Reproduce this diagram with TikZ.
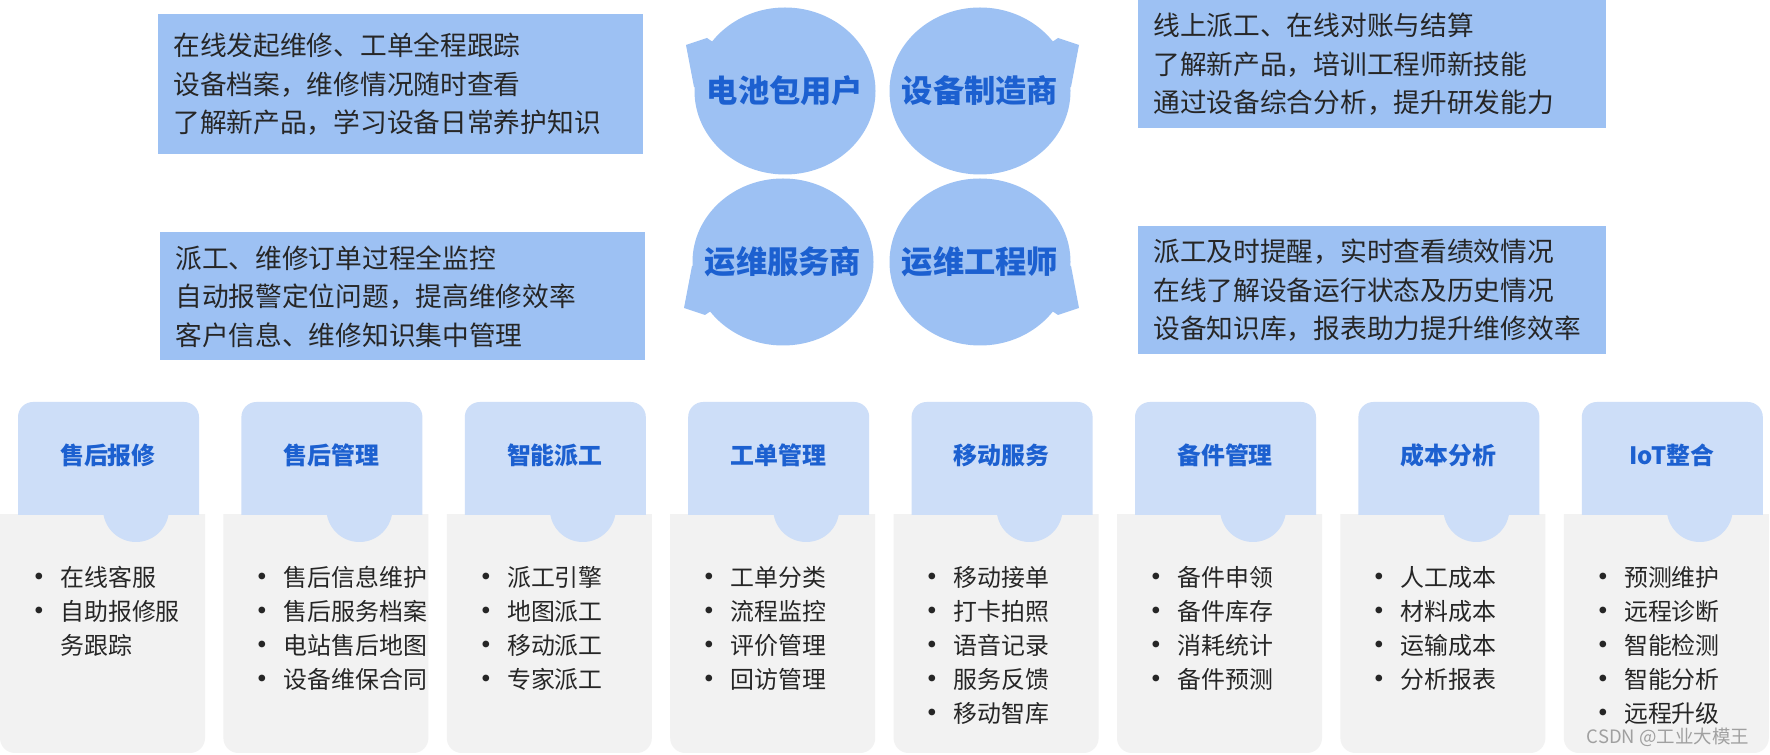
\documentclass[tikz,border=0pt]{standalone}
\usepackage{fontspec}
\setmainfont{Noto Sans CJK SC}
\usetikzlibrary{shapes.geometric,backgrounds}

\definecolor{boxblue}{RGB}{157,193,243}
\definecolor{headblue}{RGB}{205,222,248}
\definecolor{bodygray}{RGB}{242,242,242}
\definecolor{titleblue}{RGB}{28,96,208}
\definecolor{textdark}{RGB}{38,38,38}
\definecolor{markgray}{RGB}{160,160,160}

\newcommand\itembul{\makebox[5.6mm][l]{\hspace*{-1.8mm}\raisebox{-0.4mm}{\fontsize{18}{10}\selectfont •}}}
\newcommand\itemgap{\hspace*{5.6mm}}

\begin{document}
\begin{tikzpicture}[x=0.2mm, y=-0.2mm,
    descbox/.style={fill=boxblue, anchor=north west, inner xsep=3mm, inner ysep=0pt,
        align=left, text=textdark, font=\fontsize{15.2}{21.9}\selectfont},
    bubble/.style={ellipse, fill=boxblue, minimum width=36.2mm, minimum height=33.4mm,
        inner sep=0pt},
    bubbletext/.style={text=titleblue, font=\fontsize{17.8}{20}\selectfont\bfseries},
    cardtitle/.style={text=titleblue, font=\fontsize{13.6}{16}\selectfont\bfseries},
    cardlist/.style={anchor=north west, inner sep=0pt, align=left, text=textdark,
        font=\fontsize{13.6}{19.35}\selectfont},
    watermark/.style={text=markgray, font=\fontsize{10.5}{12}\selectfont}]

    \useasboundingbox (0,0) rectangle (1770,755);

    % role descriptions
    \node[descbox, text width=91mm, minimum height=28mm] (userdesc) at (158,14)
        {在线发起维修、工单全程跟踪\\设备档案，维修情况随时查看\\了解新产品，学习设备日常养护知识};
    \node[descbox, text width=91mm, minimum height=25.6mm] (providerdesc) at (160,232)
        {派工、维修订单过程全监控\\自动报警定位问题，提高维修效率\\客户信息、维修知识集中管理};
    \node[descbox, text width=87.6mm, minimum height=25.6mm] (makerdesc) at (1138,0)
        {线上派工、在线对账与结算\\了解新产品，培训工程师新技能\\通过设备综合分析，提升研发能力};
    \node[descbox, text width=87.6mm, minimum height=25.6mm] (engineerdesc) at (1138,226)
        {派工及时提醒，实时查看绩效情况\\在线了解设备运行状态及历史情况\\设备知识库，报表助力提升维修效率};

    % roles
    \node[bubble, label={[bubbletext]center:电池包用户}] (user) at (785,91) {};
    \node[bubble, label={[bubbletext]center:设备制造商}] (maker) at (980,91) {};
    \node[bubble, label={[bubbletext]center:运维服务商}] (provider) at (783,262) {};
    \node[bubble, label={[bubbletext]center:运维工程师}] (engineer) at (980,262) {};

    \begin{scope}[on background layer]
        \fill[white] (0,0) rectangle (1770,755);
        \foreach \b/\sx/\sy in {user/-1/-1, maker/1/-1, provider/-1/1, engineer/1/1}
            \fill[boxblue] (\b.center) -- ++(78*\sx,53*\sy) -- ++(21*\sx,-7*\sy)
                -- ++(-8*\sx,-42*\sy) -- cycle;
    \end{scope}

    % function cards
    \foreach \i/\ttl/\items in {
        0/售后报修/{\itembul 在线客服\\\itembul 自助报修服\\\itemgap 务跟踪},
        1/售后管理/{\itembul 售后信息维护\\\itembul 售后服务档案\\\itembul 电站售后地图\\\itembul 设备维保合同},
        2/智能派工/{\itembul 派工引擎\\\itembul 地图派工\\\itembul 移动派工\\\itembul 专家派工},
        3/工单管理/{\itembul 工单分类\\\itembul 流程监控\\\itembul 评价管理\\\itembul 回访管理},
        4/移动服务/{\itembul 移动接单\\\itembul 打卡拍照\\\itembul 语音记录\\\itembul 服务反馈\\\itembul 移动智库},
        5/备件管理/{\itembul 备件申领\\\itembul 备件库存\\\itembul 消耗统计\\\itembul 备件预测},
        6/成本分析/{\itembul 人工成本\\\itembul 材料成本\\\itembul 运输成本\\\itembul 分析报表},
        7/IoT整合/{\itembul 预测维护\\\itembul 远程诊断\\\itembul 智能检测\\\itembul 智能分析\\\itembul 远程升级}}
    {
        \pgfmathsetmacro\cardx{\i*223.4}
        \begin{scope}
            \clip (\cardx,515) rectangle (\cardx+205,760);
            \fill[bodygray, rounded corners=3mm] (\cardx,490) rectangle (\cardx+205,753);
        \end{scope}
        \begin{scope}
            \clip (\cardx,390) rectangle (\cardx+205,515);
            \fill[headblue, rounded corners=3mm] (\cardx+18,402) rectangle (\cardx+199,540);
        \end{scope}
        \fill[headblue] (\cardx+136,509) circle[radius=6.6mm];
        \node[cardtitle] (t\i) at (\cardx+108,455) {\ttl};
        \node[cardlist] (l\i) at (\cardx+32,566) {\items};
    }

    \node[watermark] (wm) at (1668,737) {CSDN @工业大模王};
\end{tikzpicture}
\end{document}
